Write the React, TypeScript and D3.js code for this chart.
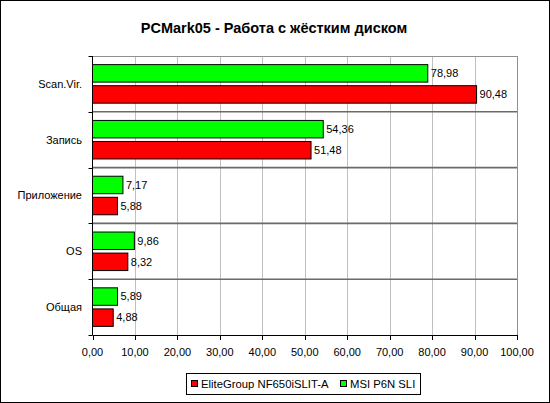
import * as d3 from "d3";

const categories = ["Scan.Vir.", "Запись", "Приложение", "OS", "Общая"];
const eliteValues = [90.48, 51.48, 5.88, 8.32, 4.88];
const msiValues = [78.98, 54.36, 7.17, 9.86, 5.89];
const seriesNames = ["MSI P6N SLI", "EliteGroup NF650iSLIT-A"];
const xTicks = [0, 10, 20, 30, 40, 50, 60, 70, 80, 90, 100];

const W = 550;
const H = 403;
const FONT = "Arial, 'Liberation Sans', sans-serif";

const fmt = (v: number) => v.toFixed(2).replace(".", ",");

export default function App() {
  const plot = { left: 92.5, right: 517, top: 56, bottom: 335 };

  const x = d3.scaleLinear().domain([0, 100]).range([plot.left, plot.right]);
  const y = d3.scaleBand<string>().domain(categories).range([plot.top, plot.bottom]);
  const inner = d3
    .scaleBand<string>()
    .domain(seriesNames)
    .range([0, y.bandwidth()])
    .paddingInner(0.17)
    .paddingOuter(0.41);

  const series = [
    { name: seriesNames[0], values: msiValues, color: "#00ff00" },
    { name: seriesNames[1], values: eliteValues, color: "#ff0000" },
  ];

  const bounds = categories.map((c) => y(c)!).concat([plot.bottom]);

  return (
    <div style={{ position: "absolute", left: 0, top: 0 }}>
      <svg width={W} height={H} style={{ display: "block", fontFamily: FONT }}>
        <rect x={0.5} y={0.5} width={W - 1} height={H - 1} fill="#fff" stroke="#000" />

        <text x={274} y={32.5} textAnchor="middle" fontSize={14.5} fontWeight="bold" fill="#000">
          PCMark05 - Работа с жёстким диском
        </text>

        {/* vertical gridlines */}
        {xTicks.slice(1).map((t) => (
          <line
            key={t}
            x1={Math.round(x(t)) + 0.5}
            x2={Math.round(x(t)) + 0.5}
            y1={plot.top}
            y2={plot.bottom}
            stroke="#c0c0c0"
          />
        ))}

        {/* plot frame */}
        <line x1={plot.left} x2={plot.right + 0.5} y1={plot.top + 0.5} y2={plot.top + 0.5} stroke="#909090" />
        <line x1={plot.right + 0.5} x2={plot.right + 0.5} y1={plot.top} y2={plot.bottom} stroke="#909090" />

        {/* category separators */}
        {bounds.slice(1, -1).map((b, i) => (
          <line key={i} x1={plot.left} x2={plot.right} y1={b} y2={b} stroke="#6a6a6a" strokeWidth={1.6} />
        ))}

        {/* bars */}
        {categories.map((c, ci) =>
          series.map((s) => {
            const by = y(c)! + inner(s.name)!;
            const bh = inner.bandwidth();
            const v = s.values[ci];
            return (
              <g key={c + s.name}>
                <rect
                  x={x(0)}
                  y={by}
                  width={x(v) - x(0)}
                  height={bh}
                  fill={s.color}
                  stroke="#000"
                  strokeWidth={1}
                />
                <text x={x(v) + 3} y={by + bh / 2} dy="0.35em" fontSize={11} fill="#000">
                  {fmt(v)}
                </text>
              </g>
            );
          })
        )}

        {/* axes */}
        <line x1={plot.left} x2={plot.left} y1={plot.top} y2={plot.bottom} stroke="#000" />
        <line x1={plot.left} x2={plot.right + 1} y1={plot.bottom + 0.5} y2={plot.bottom + 0.5} stroke="#000" />
        {bounds.map((b, i) => (
          <line key={i} x1={plot.left - 4} x2={plot.left} y1={Math.round(b) + 0.5} y2={Math.round(b) + 0.5} stroke="#000" />
        ))}
        {categories.map((c) => (
          <text
            key={c}
            x={82}
            y={y(c)! + y.bandwidth() / 2}
            dy="0.35em"
            textAnchor="end"
            fontSize={11}
            fill="#000"
          >
            {c}
          </text>
        ))}
        {xTicks.map((t) => (
          <g key={t}>
            <line
              x1={Math.round(x(t)) + 0.5}
              x2={Math.round(x(t)) + 0.5}
              y1={plot.bottom}
              y2={plot.bottom + 5}
              stroke="#000"
            />
            <text x={x(t)} y={356} textAnchor="middle" fontSize={11} fill="#000">
              {fmt(t)}
            </text>
          </g>
        ))}

        {/* legend */}
        <rect x={186.5} y={373.5} width={234} height={21} fill="#fff" stroke="#000" />
        <rect x={191.5} y={380.5} width={6} height={6} fill="#ff0000" stroke="#000" />
        <text x={201} y={388} fontSize={11.3} fill="#000">
          {seriesNames[1]}
        </text>
        <rect x={340.5} y={380.5} width={6} height={6} fill="#00ff00" stroke="#000" />
        <text x={350} y={388} fontSize={11.3} fill="#000">
          {seriesNames[0]}
        </text>
      </svg>
    </div>
  );
}
